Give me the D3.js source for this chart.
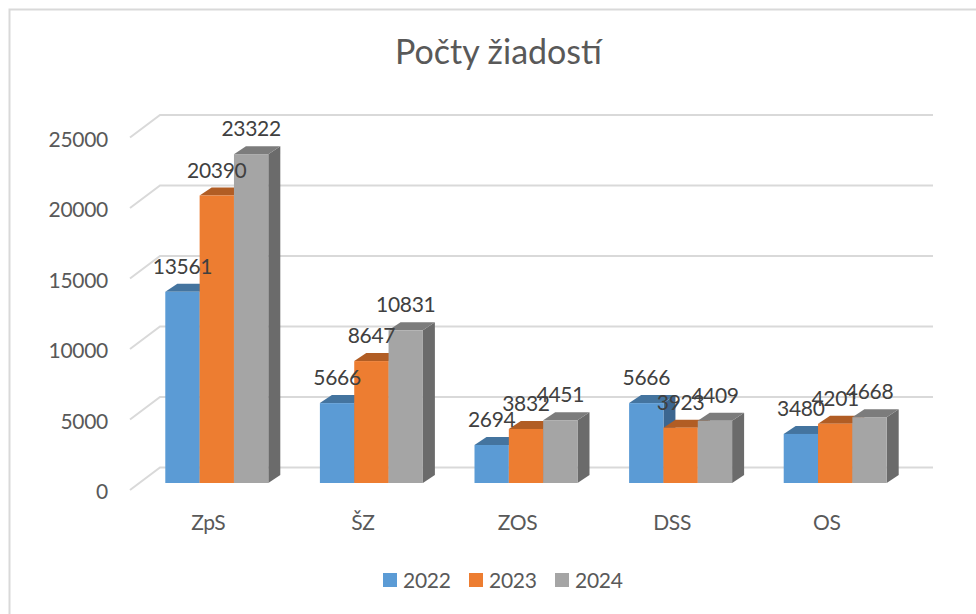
<!DOCTYPE html>
<html><head><meta charset="utf-8">
<script src="https://cdn.jsdelivr.net/npm/d3@7"></script>
<style>html,body{margin:0;padding:0;background:#fff}svg{display:block}text{font-family:Lato,"Open Sans",sans-serif}</style>
</head><body><svg id="c" width="976" height="614"></svg>
<script>
const categories = ["ZpS","ŠZ","ZOS","DSS","OS"];
const seriesNames = ["2022","2023","2024"];
const values2022 = [13561,5666,2694,5666,3480];
const values2023 = [20390,8647,3832,3923,4201];
const values2024 = [23322,10831,4451,4409,4668];
const yTicks = [0,5000,10000,15000,20000,25000];
const titleText = "Počty žiadostí";
const front = ["#5b9bd5","#ed7d31","#a5a5a5"];
const topC = ["#44749f","#b15d24","#7c7c7c"];
const side = ["#3c6690","#9c5220","#6b6b6b"];
const allValues = [values2022,values2023,values2024];

const svg = d3.select("#c");
const dx = 12, dy = 8;
const y = d3.scaleLinear().domain([0,25000]).range([483,130.5]);
const x0 = d3.scaleBand().domain(categories).range([139.5,912.5]).paddingInner(0.3333).paddingOuter(0.1666);
const groupX = d3.scaleBand().domain(seriesNames).range([0,103]);
const grey = "#d9d9d9", txt = "#595959", lbl = "#404040";
const barX = (c,s) => x0(c) + (x0.bandwidth()-103)/2 + groupX(s);

// frame
svg.append("path").attr("d","M9.5,614V9.5H976").attr("fill","none").attr("stroke",grey).attr("stroke-width",2);

// title
svg.append("text").attr("x",498.5).attr("y",64).attr("text-anchor","middle").attr("font-size",34).attr("fill",txt).text(titleText);

// gridlines with 3D wall
const gx0 = 130, gxb = 160, gxe = 933;
const grid = svg.append("g").attr("fill","none").attr("stroke",grey).attr("stroke-width",2);
yTicks.forEach(t=>{
  const yy = y(t);
  grid.append("path").attr("d",`M${gx0},${yy+7}L${gxb},${yy-15.5}H${gxe}`);
});

// y axis
const yAxis = d3.axisLeft(y).tickValues(yTicks).tickFormat(d3.format("d")).tickSize(0).tickPadding(0);
const ga = svg.append("g").attr("transform","translate(108,0)").call(yAxis);
ga.select(".domain").remove();
ga.selectAll("text").attr("font-size",21).attr("letter-spacing","-0.3").attr("fill",txt).attr("dy","0").attr("y",15.8).attr("font-family","Lato");

// bars
const bars = svg.append("g");
categories.forEach((c,ci)=>{
  seriesNames.forEach((s,si)=>{
    const v = allValues[si][ci];
    const bw = groupX.bandwidth();
    const bx = barX(c,s);
    const top = y(v), bot = y(0);
    const g = bars.append("g");
    g.append("path").attr("fill",side[si]).attr("d",`M${bx+bw},${top}l${dx},${-dy}V${bot-dy}l${-dx},${dy}Z`);
    g.append("path").attr("fill",topC[si]).attr("d",`M${bx},${top}l${dx},${-dy}h${bw}l${-dx},${dy}Z`);
    g.append("rect").attr("x",bx).attr("y",top).attr("width",bw).attr("height",bot-top).attr("fill",front[si]);
  });
});

// data labels
const labels = svg.append("g").attr("text-anchor","middle").attr("font-size",21).attr("letter-spacing","-0.3").attr("fill",lbl);
categories.forEach((c,ci)=>{
  seriesNames.forEach((s,si)=>{
    labels.append("text").attr("x",barX(c,s)+groupX.bandwidth()/2).attr("y",y(allValues[si][ci])-18).text(allValues[si][ci]);
  });
});

// category labels
const cats = svg.append("g").attr("text-anchor","middle").attr("font-size",21).attr("letter-spacing","-0.3").attr("fill",txt);
categories.forEach(c=>{
  cats.append("text").attr("x",x0(c)+x0.bandwidth()/2-8.5).attr("y",529.5).text(c);
});

// legend
const lg = svg.append("g");
const legendX = d3.scalePoint().domain(seriesNames).range([383,555]);
seriesNames.forEach((s,i)=>{
  const lx = legendX(s);
  lg.append("rect").attr("x",lx).attr("y",573).attr("width",14).attr("height",14).attr("fill",front[i]);
  lg.append("text").attr("x",lx+20).attr("y",587.5).attr("font-size",21).attr("letter-spacing","-0.3").attr("fill",txt).text(s);
});
</script></body></html>
